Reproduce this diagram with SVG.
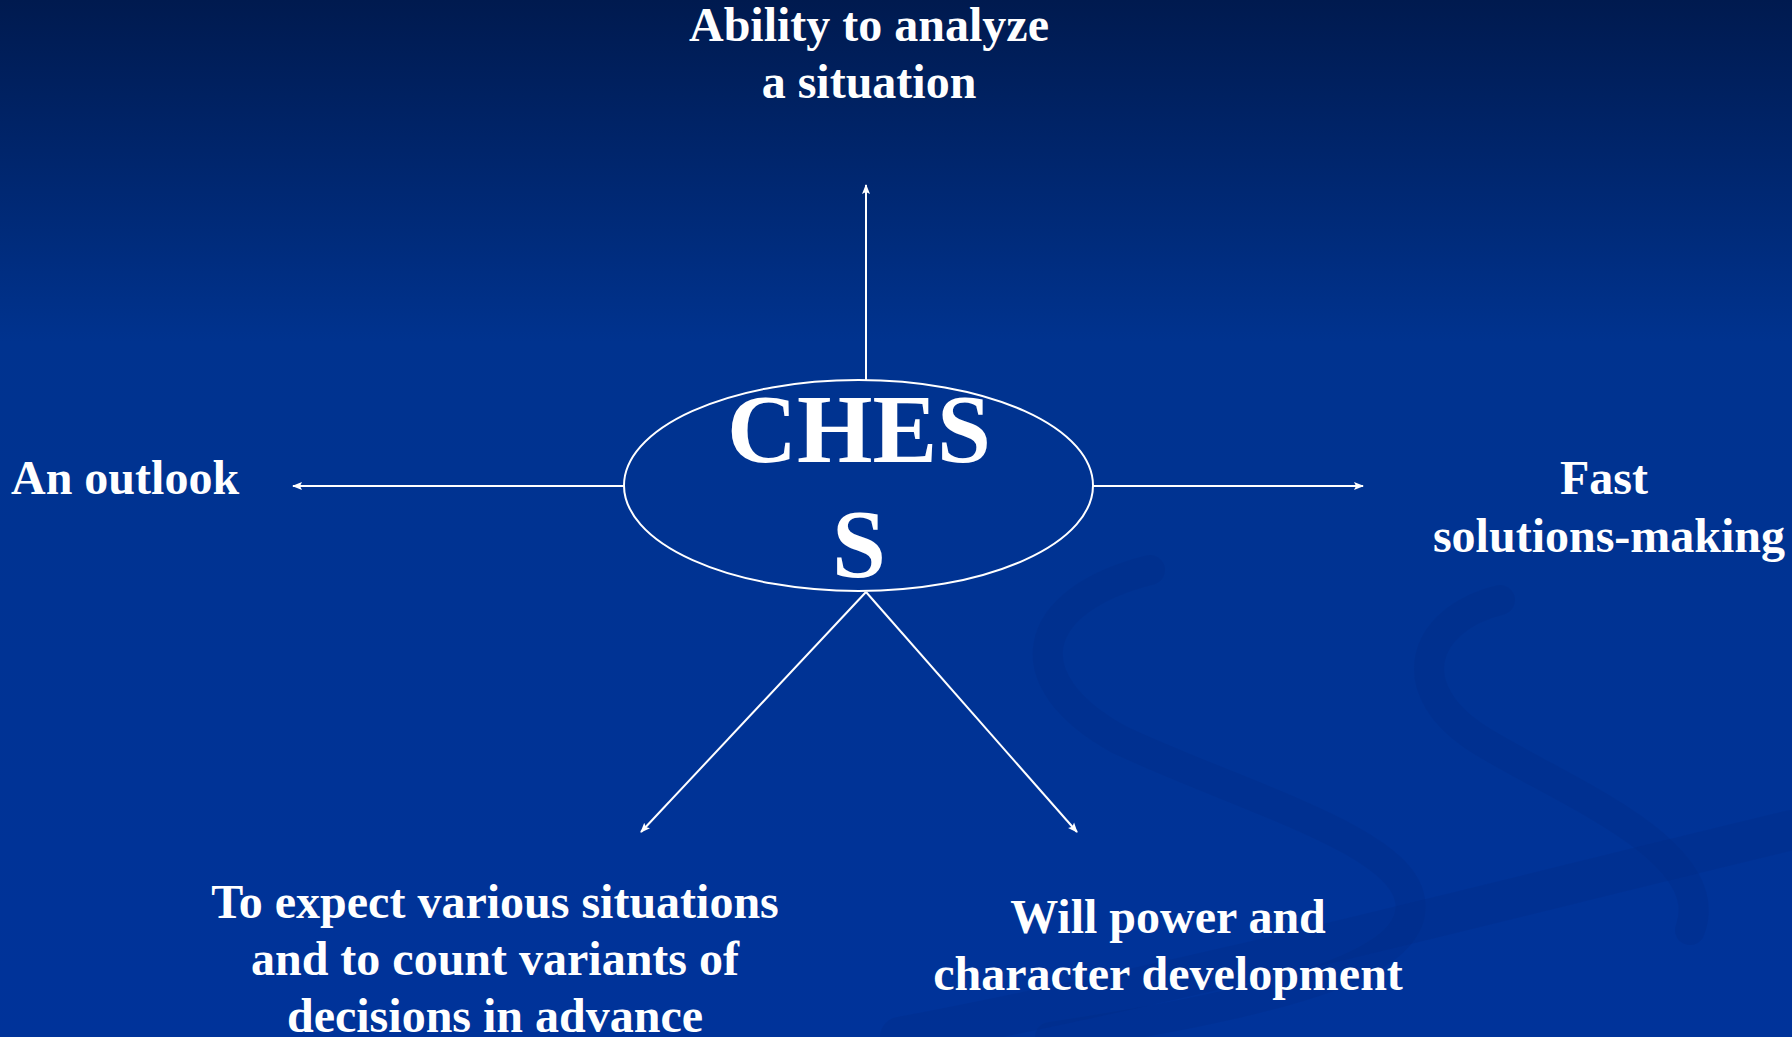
<svg xmlns="http://www.w3.org/2000/svg" width="1792" height="1037" viewBox="0 0 1792 1037">
<defs>
<linearGradient id="bg" x1="0" y1="0" x2="0" y2="1">
<stop offset="0" stop-color="#001a4f"/>
<stop offset="0.33" stop-color="#00338f"/>
<stop offset="1" stop-color="#00339a"/>
</linearGradient>
<marker id="ah" viewBox="0 0 10 10" refX="9" refY="5" markerWidth="10" markerHeight="10" markerUnits="userSpaceOnUse" orient="auto">
<path d="M0,1 L10,5 L0,9 L2,5 Z" fill="#ffffff"/>
</marker>
<style>
.lbl{font-family:"Liberation Serif","Times New Roman",serif;font-weight:bold;fill:#ffffff;font-size:48px;text-anchor:middle}
.big{font-family:"Liberation Serif","Times New Roman",serif;font-weight:bold;fill:#ffffff;font-size:97px;text-anchor:middle}
.conn{stroke:#ffffff;stroke-width:2;fill:none;marker-end:url(#ah)}
.swirl{fill:none;stroke:#002a80;stroke-opacity:0.22;stroke-linecap:round}
</style>
</defs>
<rect width="1792" height="1037" fill="url(#bg)"/>
<g id="decor">
<path class="swirl" stroke-width="30" d="M1150,570 C1030,600 1010,680 1120,740 C1250,800 1400,840 1410,900 C1420,960 1300,1000 1050,1037"/>
<path class="swirl" stroke-width="30" d="M1500,600 C1420,620 1400,690 1480,740 C1560,790 1720,850 1690,930"/>
<path class="swirl" stroke-width="40" d="M900,1037 C1200,980 1500,900 1792,830"/>
</g>
<g id="connectors">
<line class="conn" x1="866" y1="380" x2="866" y2="185"/>
<line class="conn" x1="624" y1="486" x2="293" y2="486"/>
<line class="conn" x1="1093" y1="486" x2="1363" y2="486"/>
<line class="conn" x1="866" y1="592" x2="641" y2="832"/>
<line class="conn" x1="866" y1="592" x2="1077" y2="832"/>
</g>
<g id="center">
<ellipse cx="858.5" cy="485.5" rx="234.5" ry="105.5" fill="none" stroke="#ffffff" stroke-width="2"/>
<text class="big" x="859" y="462">CHES</text>
<text class="big" x="859" y="577">S</text>
</g>
<g id="top">
<text class="lbl" x="869" y="41">Ability to analyze</text>
<text class="lbl" x="869" y="98">a situation</text>
</g>
<g id="left">
<text class="lbl" x="11" y="494" style="text-anchor:start">An outlook</text>
</g>
<g id="right">
<text class="lbl" x="1604" y="494">Fast</text>
<text class="lbl" x="1609" y="552">solutions-making</text>
</g>
<g id="bottomleft">
<text class="lbl" x="495" y="918">To expect various situations</text>
<text class="lbl" x="495" y="975">and to count variants of</text>
<text class="lbl" x="495" y="1032">decisions in advance</text>
</g>
<g id="bottomright">
<text class="lbl" x="1168" y="933">Will power and</text>
<text class="lbl" x="1168" y="990">character development</text>
</g>
</svg>
